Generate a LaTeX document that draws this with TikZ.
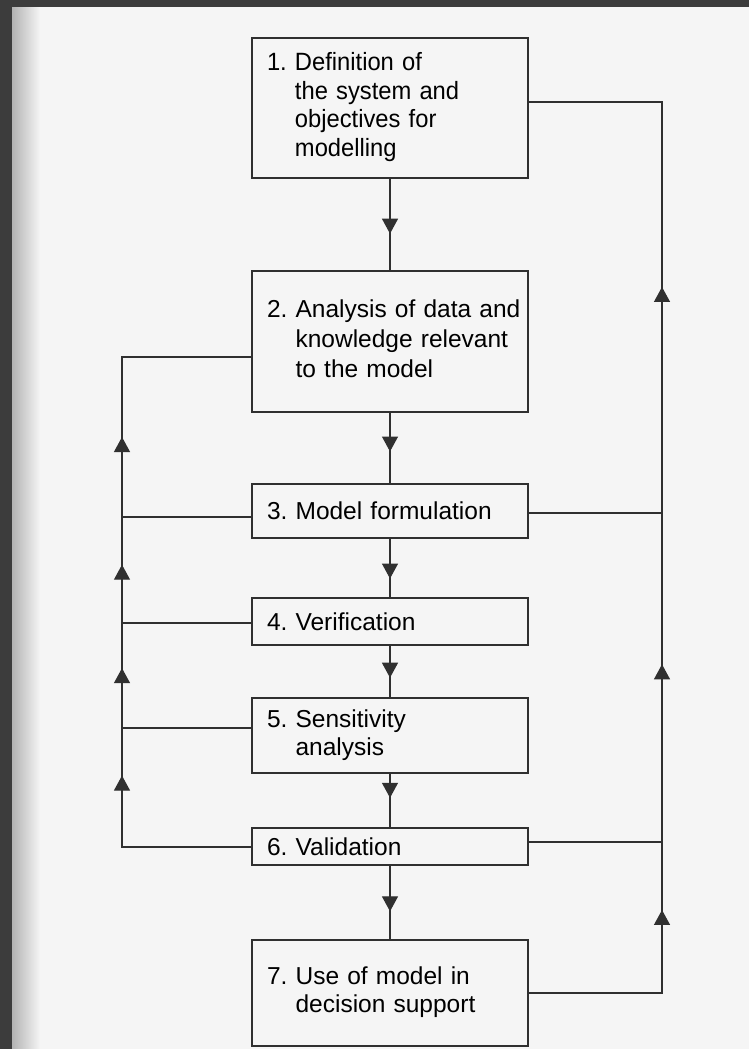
\documentclass[tikz,border=0pt]{standalone}
\usepackage{xcolor}
\usepackage{fontspec}
\setmainfont{Liberation Sans}
\newfontfamily\narrowfont[FakeStretch=0.95]{Liberation Sans}
\usetikzlibrary{arrows.meta, decorations.markings}

\definecolor{ink}{HTML}{303030}
\definecolor{paper}{HTML}{F5F5F5}
\definecolor{scanedge}{HTML}{3C3C3C}

\begin{document}
\begin{tikzpicture}[x=1pt, y=-1pt]
      \tikzstyle{stage} = [draw=ink, line width=1.2pt, rectangle,
                           text width=246pt, inner xsep=15pt, inner ysep=0pt,
                           align=left, font=\fontsize{24.5}{28}\selectfont]
      \tikzstyle{flow} = [ink, line width=1.2pt]
      \tikzstyle{midarrow}[0.55] = [postaction={decorate},
                           decoration={markings, mark=at position #1 with
                           {\arrow{Triangle[width=16pt,length=15pt]}}}]

      % scanned page
      \useasboundingbox (0,0) rectangle (749,1049);
      \fill[paper] (0,0) rectangle (749,1049);
      \shade[left color=gray!60, right color=paper] (12,0) rectangle (40,1049);
      \fill[scanedge] (0,0) rectangle (12,1049);
      \fill[scanedge] (0,0) rectangle (749,7);

      \node[stage, minimum height=140pt] (s1) at (390,108)
        {\narrowfont\fontsize{25}{28.5}\selectfont
         \begin{tabular}{@{}l@{\ }l@{}}1. & Definition of\\ & the system and\\
         & objectives for\\ & modelling\end{tabular}\par\vspace*{6pt}};
      \node[stage, minimum height=141pt, font=\fontsize{24.5}{30}\selectfont] (s2) at (390,341.5)
        {\begin{tabular}{@{}l@{\ }l@{}}2. & Analysis of data and\\
         & knowledge relevant\\ & to the model\end{tabular}};
      \node[stage, minimum height=54pt] (s3) at (390,511) {3.\ Model formulation};
      \node[stage, minimum height=47pt] (s4) at (390,621.5) {4.\ Verification};
      \node[stage, minimum height=75pt] (s5) at (390,735.5)
        {\begin{tabular}{@{}l@{\ }l@{}}5. & Sensitivity\\ & analysis\end{tabular}};
      \node[stage, minimum height=37pt] (s6) at (390,846.5) {6.\ Validation};
      \node[stage, minimum height=106pt] (s7) at (390,993)
        {\begin{tabular}{@{}l@{\ }l@{}}7. & Use of model in\\ & decision support\end{tabular}\par\vspace*{-4pt}};

      % main sequence
      \draw[flow, midarrow=0.6] (s1) -- (s2);
      \draw[flow, midarrow=0.55] (s2) -- (s3);
      \draw[flow, midarrow=0.68] (s3) -- (s4);
      \draw[flow, midarrow=0.62] (s4) -- (s5);
      \draw[flow, midarrow=0.45] (s5) -- (s6);
      \draw[flow, midarrow=0.62] (s6) -- (s7);

      % feedback on the left
      \coordinate (l2) at (122,357);
      \coordinate (l3) at (122,517);
      \coordinate (l4) at (122,623);
      \coordinate (l5) at (122,728);
      \coordinate (l6) at (122,847);
      \draw[flow] (s6.west |- l6) -| (l2) -- (s2.west |- l2);
      \draw[flow] (s3.west |- l3) -- (l3);
      \draw[flow] (s4.west |- l4) -- (l4);
      \draw[flow] (s5.west |- l5) -- (l5);
      \draw[flow, midarrow=0.6] (l6) -- (l5);
      \draw[flow, midarrow=0.57] (l5) -- (l4);
      \draw[flow, midarrow=0.55] (l4) -- (l3);
      \draw[flow, midarrow=0.5] (l3) -- (l2);

      % feedback on the right
      \coordinate (r1) at (662,102);
      \coordinate (r3) at (662,513);
      \coordinate (r6) at (662,842);
      \coordinate (r7) at (662,993);
      \draw[flow] (s7.east) -| (r1) -- (s1.east |- r1);
      \draw[flow] (s3.east |- r3) -- (r3);
      \draw[flow] (s6.east |- r6) -- (r6);
      \draw[flow, midarrow=0.55] (r7) -- (r6);
      \draw[flow, midarrow=0.54] (r6) -- (r3);
      \draw[flow, midarrow=0.55] (r3) -- (r1);
    \end{tikzpicture}
\end{document}
